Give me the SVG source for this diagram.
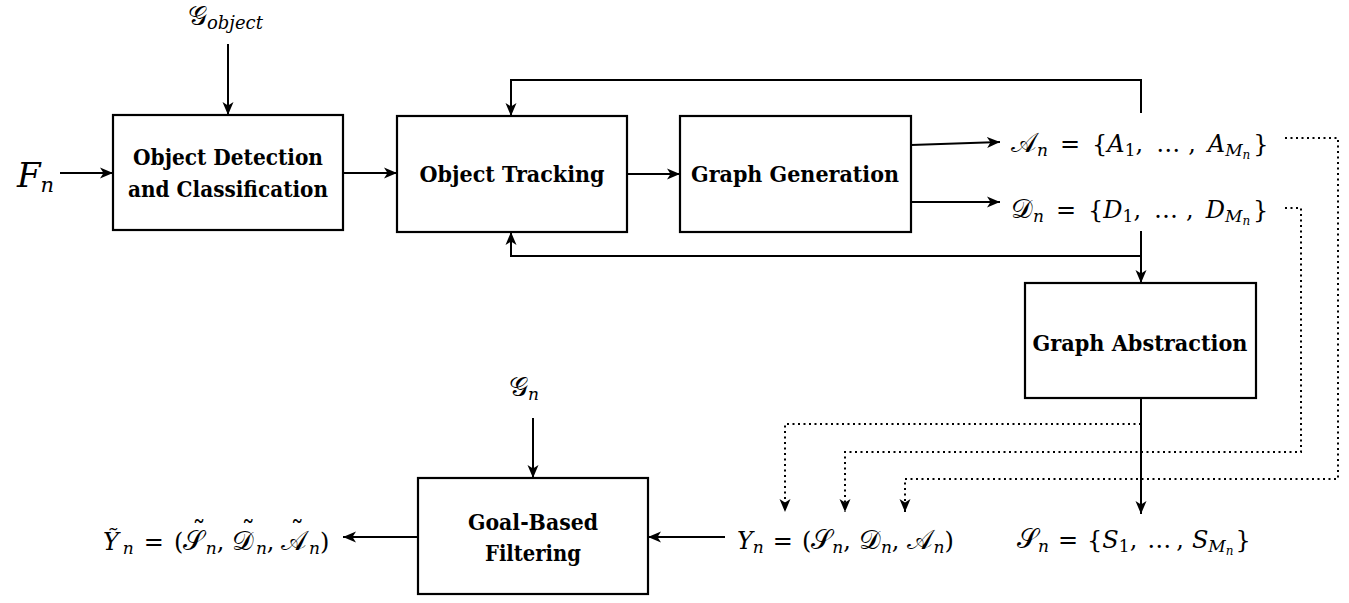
<svg xmlns="http://www.w3.org/2000/svg" width="1349" height="603" viewBox="0 0 1349 603">
<style>
.box{fill:#fff;stroke:#000;stroke-width:2.2}
.lbl{font-family:'DejaVu Serif',serif;font-weight:700;font-size:23px;text-anchor:middle;fill:#000}
.math{font-family:'DejaVu Serif',serif;font-size:24px;fill:#000}
.it{font-style:italic}
.sub{font-size:17px}
.ssub{font-size:12px}
.cal{font-style:normal;font-size:27px}
.ln{fill:none;stroke:#000;stroke-width:2}
.dot{fill:none;stroke:#000;stroke-width:2;stroke-dasharray:2 3.5}
</style>
<defs>
<marker id="ah" markerUnits="userSpaceOnUse" markerWidth="14" markerHeight="12" refX="13" refY="6" orient="auto">
<path d="M0,0.5 L13,6 L0,11.5 L3.5,6 z" fill="#000"/>
</marker>
</defs>
<g id="connectors">
<line class="ln" x1="228" y1="44" x2="228" y2="115" marker-end="url(#ah)"/>
<line class="ln" x1="60" y1="173" x2="113" y2="173" marker-end="url(#ah)"/>
<line class="ln" x1="343" y1="173" x2="397" y2="173" marker-end="url(#ah)"/>
<line class="ln" x1="627" y1="174" x2="680" y2="174" marker-end="url(#ah)"/>
<line class="ln" x1="911" y1="145" x2="1000" y2="142" marker-end="url(#ah)"/>
<line class="ln" x1="911" y1="202" x2="1000" y2="202" marker-end="url(#ah)"/>
<polyline class="ln" points="1141,113 1141,80 511,80 511,116" marker-end="url(#ah)"/>
<polyline class="ln" points="1141,256 511,256 511,232" marker-end="url(#ah)"/>
<line class="ln" x1="1141" y1="231" x2="1141" y2="283" marker-end="url(#ah)"/>
<line class="ln" x1="1141" y1="398" x2="1141" y2="514" marker-end="url(#ah)"/>
<polyline class="dot" points="1141,424 785,424 785,512" marker-end="url(#ah)"/>
<polyline class="dot" points="1285,208 1301,208 1301,452 845,452 845,512" marker-end="url(#ah)"/>
<polyline class="dot" points="1285,138 1338,138 1338,479 905,479 905,512" marker-end="url(#ah)"/>
<line class="ln" x1="533" y1="418" x2="533" y2="478" marker-end="url(#ah)"/>
<line class="ln" x1="725" y1="537" x2="648" y2="537" marker-end="url(#ah)"/>
<line class="ln" x1="418" y1="537" x2="343" y2="537" marker-end="url(#ah)"/>
</g>
<g id="detection"><rect class="box" x="113" y="115" width="230" height="115"/>
<text class="lbl" x="228" y="165" textLength="190" lengthAdjust="spacingAndGlyphs">Object Detection</text><text class="lbl" x="228" y="197" textLength="200" lengthAdjust="spacingAndGlyphs">and Classification</text></g>
<g id="tracking"><rect class="box" x="397" y="116" width="230" height="116"/>
<text class="lbl" x="512" y="182" textLength="185" lengthAdjust="spacingAndGlyphs">Object Tracking</text></g>
<g id="generation"><rect class="box" x="680" y="116" width="231" height="116"/>
<text class="lbl" x="795" y="182" textLength="208" lengthAdjust="spacingAndGlyphs">Graph Generation</text></g>
<g id="abstraction"><rect class="box" x="1025" y="283" width="231" height="115"/>
<text class="lbl" x="1140" y="351" textLength="215" lengthAdjust="spacingAndGlyphs">Graph Abstraction</text></g>
<g id="filtering"><rect class="box" x="418" y="478" width="230" height="116"/>
<text class="lbl" x="533" y="530" textLength="130" lengthAdjust="spacingAndGlyphs">Goal-Based</text><text class="lbl" x="533" y="561" textLength="96" lengthAdjust="spacingAndGlyphs">Filtering</text></g>
<g id="labels">
<text class="math" x="188" y="25"><tspan class="cal">𝒢</tspan><tspan class="it" style="font-size:18px" dy="4">object</tspan></text>
<text class="math" x="17" y="187" style="font-size:34px"><tspan class="it">F</tspan><tspan class="it" style="font-size:21px" dy="5">n</tspan></text>
<text class="math" x="1011" y="152"><tspan class="cal">𝒜</tspan><tspan class="it sub" dy="4">n</tspan><tspan dx="12" dy="-4">=</tspan><tspan dx="12">{</tspan><tspan class="it">A</tspan><tspan class="sub" dy="4">1</tspan><tspan dy="-4">,</tspan><tspan dx="13">…</tspan><tspan dx="8">,</tspan><tspan class="it" dx="12">A</tspan><tspan class="it sub" dy="4">M</tspan><tspan class="it ssub" dy="3">n</tspan><tspan dx="3" dy="-7">}</tspan></text>
<text class="math" x="1011" y="218"><tspan class="cal">𝒟</tspan><tspan class="it sub" dy="4">n</tspan><tspan dx="12" dy="-4">=</tspan><tspan dx="12">{</tspan><tspan class="it">D</tspan><tspan class="sub" dy="4">1</tspan><tspan dy="-4">,</tspan><tspan dx="13">…</tspan><tspan dx="8">,</tspan><tspan class="it" dx="12">D</tspan><tspan class="it sub" dy="4">M</tspan><tspan class="it ssub" dy="3">n</tspan><tspan dx="3" dy="-7">}</tspan></text>
<text class="math" x="1017" y="548"><tspan class="cal">𝒮</tspan><tspan class="it sub" dy="4">n</tspan><tspan dx="9" dy="-4">=</tspan><tspan dx="9">{</tspan><tspan class="it">S</tspan><tspan class="sub" dy="4">1</tspan><tspan dy="-4">,</tspan><tspan dx="10">…</tspan><tspan dx="5">,</tspan><tspan class="it" dx="8">S</tspan><tspan class="it sub" dy="4">M</tspan><tspan class="it ssub" dy="3">n</tspan><tspan dx="2" dy="-7">}</tspan></text>
<text class="math" x="737" y="549"><tspan class="it">Y</tspan><tspan class="it sub" dy="4">n</tspan><tspan dx="9" dy="-4">=</tspan><tspan dx="9">(</tspan><tspan class="cal">𝒮</tspan><tspan class="it sub" dy="4">n</tspan><tspan dy="-4">,</tspan><tspan class="cal" dx="8">𝒟</tspan><tspan class="it sub" dy="4">n</tspan><tspan dy="-4">,</tspan><tspan class="cal" dx="8">𝒜</tspan><tspan class="it sub" dy="4">n</tspan><tspan dy="-4">)</tspan></text>
<text class="math" x="509" y="396"><tspan class="cal">𝒢</tspan><tspan class="it sub" dy="4">n</tspan></text>
<text class="math" x="103" y="550"><tspan class="it">Ỹ</tspan><tspan class="it sub" dx="4" dy="4">n</tspan><tspan dx="10" dy="-4">=</tspan><tspan dx="10">(</tspan><tspan class="cal" dx="9 -23" dy="-9 9">˜𝒮</tspan><tspan class="it sub" dx="2" dy="4">n</tspan><tspan dy="-4">,</tspan><tspan class="cal" dx="17 -23" dy="-9 9">˜𝒟</tspan><tspan class="it sub" dx="2" dy="4">n</tspan><tspan dy="-4">,</tspan><tspan class="cal" dx="16 -23" dy="-9 9">˜𝒜</tspan><tspan class="it sub" dx="2" dy="4">n</tspan><tspan dy="-4">)</tspan></text>
</g>
</svg>
